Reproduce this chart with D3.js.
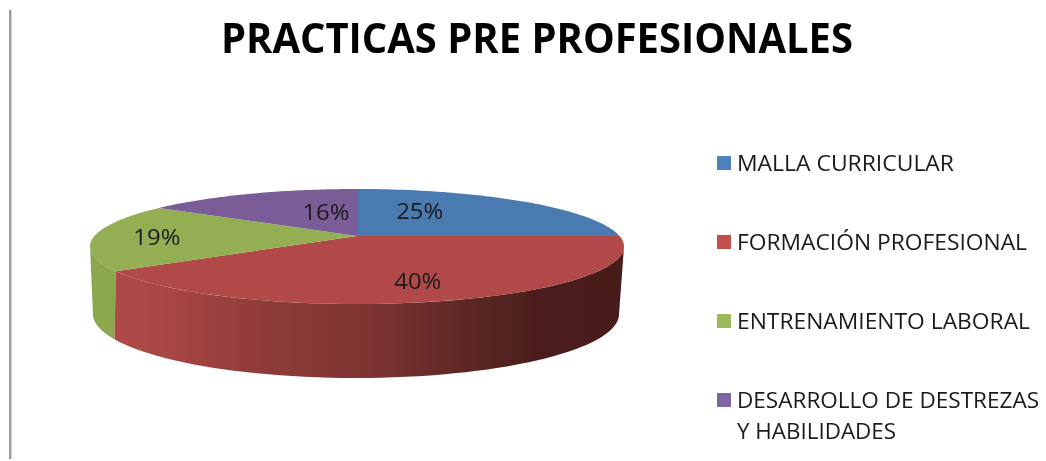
<!DOCTYPE html>
<html><head><meta charset="utf-8">
<script src="https://cdn.jsdelivr.net/npm/d3@7"></script>
<style>html,body{margin:0;padding:0;background:#fff}svg{display:block}text{font-family:"Open Sans",sans-serif;fill:#1a1a1a}</style>
</head><body><svg id="c" width="1046" height="461"></svg>
<script>
const titleText = "PRACTICAS PRE PROFESIONALES";
const categories = ["MALLA CURRICULAR","FORMACIÓN PROFESIONAL","ENTRENAMIENTO LABORAL","DESARROLLO DE DESTREZAS"];
const values = [25,40.4,19,15.6];
const sliceLabels = ["25%","40%","19%","16%"];
const topColors = ["#4a7ab0","#b04a47","#93ae52","#7a5c96"];
const legendColors = ["#4f81bd","#c0504d","#9bbb59","#8064a2"];
const legendY = [163,242,321,400];
const legendWidths = [217,290,293,302];
const labelAngles = [28,164,268.6,344.7];
const labelRadii = [.554,.732,.76,.486];

const svg = d3.select("#c");
const defs = svg.append("defs");
defs.append("filter").attr("id","soft").append("feGaussianBlur").attr("stdDeviation",0.45);

const topRing={cx:357,cy:236,k:0.183,R:262.5,H:55.6};
const botRing={cx:356,cy:299.9,k:0.22,R:256.6,H:60.9};
function project(theta,r,ring){
  const u=r*Math.sin(theta), v=-r*Math.cos(theta), s=1/(1-ring.k*v);
  return [ring.cx+ring.R*u*s, ring.cy+ring.H*v*s];
}
const arcPoints=(a0,a1,ring)=>d3.range(0,61).map(i=>project(a0+(a1-a0)*i/60,1,ring));
const line=d3.line();
const pieData=d3.pie().sort(null).value(d=>d)(values);
const rightEdge=ring=>Math.PI/2+Math.asin(ring.k), leftEdge=ring=>3*Math.PI/2-Math.asin(ring.k);

const g=svg.append("g").attr("filter","url(#soft)");

// axis line at the far left of the picture
g.append("rect").attr("x",9).attr("y",10).attr("width",2.4).attr("height",449).attr("fill","#9a9a9a");

// side walls
const grad=defs.append("linearGradient").attr("id","wall").attr("gradientUnits","userSpaceOnUse")
  .attr("x1",114).attr("x2",624).attr("y1",0).attr("y2",0);
[[0,"#b04a48"],[.12,"#a64543"],[.3,"#8e3b39"],[.48,"#7f3533"],[.7,"#5c2725"],[.82,"#4c1f1d"],[1,"#4a1d1b"]]
  .forEach(([o,c])=>grad.append("stop").attr("offset",o).attr("stop-color",c));
const wall=(topA0,topA1,botA0,botA1,fill)=>g.append("path")
  .attr("d",line(arcPoints(topA0,topA1,topRing).concat(arcPoints(botA1,botA0,botRing)))+"Z").attr("fill",fill);
wall(pieData[1].endAngle,leftEdge(topRing),pieData[1].endAngle,leftEdge(botRing),"#8ca84e");
wall(rightEdge(topRing),pieData[1].endAngle,rightEdge(botRing),pieData[1].endAngle,"url(#wall)");

// top faces
pieData.forEach((d,i)=>{
  g.append("path")
   .attr("d",line([[topRing.cx,topRing.cy]].concat(arcPoints(d.startAngle,d.endAngle,topRing)))+"Z")
   .attr("fill",topColors[i]);
});

// slice labels
sliceLabels.forEach((t,i)=>{
  const p=project(labelAngles[i]*Math.PI/180,labelRadii[i],topRing);
  g.append("text").attr("x",p[0]).attr("y",p[1]+8).attr("text-anchor","middle")
   .attr("font-size",21).attr("textLength",47).attr("lengthAdjust","spacingAndGlyphs").text(t);
});

// title
g.append("text").attr("x",221).attr("y",53).attr("font-size",41).attr("font-weight",700)
 .attr("textLength",632).attr("lengthAdjust","spacingAndGlyphs").style("fill","#000").text(titleText);

// legend
categories.forEach((c,i)=>{
  g.append("rect").attr("x",717).attr("y",legendY[i]-7).attr("width",14).attr("height",14).attr("fill",legendColors[i]);
  g.append("text").attr("x",737).attr("y",legendY[i]+8).attr("font-size",21)
   .attr("textLength",legendWidths[i]).attr("lengthAdjust","spacingAndGlyphs").text(c);
});
g.append("text").attr("x",737).attr("y",439).attr("font-size",21)
 .attr("textLength",159).attr("lengthAdjust","spacingAndGlyphs").text("Y HABILIDADES");
</script></body></html>
